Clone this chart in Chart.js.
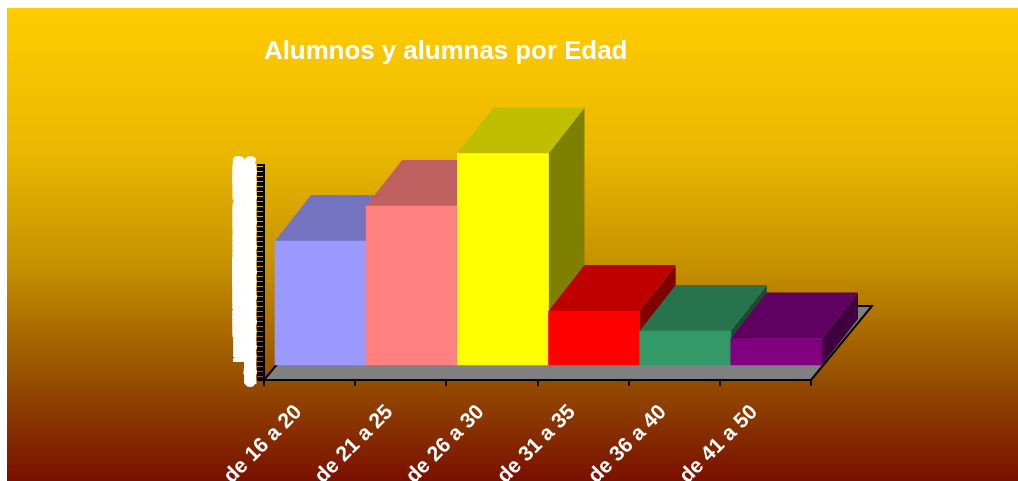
<!DOCTYPE html>
<html>
<head>
<meta charset="utf-8">
<title>Alumnos y alumnas por Edad</title>
<script src="https://cdn.jsdelivr.net/npm/chart.js@4"></script>
<style>
  html, body { margin: 0; padding: 0; background: #fff; overflow: hidden; }
  #grafica { position: absolute; left: 7px; top: 8px; }
</style>
</head>
<body>
<canvas id="grafica" width="1011" height="473"></canvas>
<script>
const edades = ['de 16 a 20', 'de 21 a 25', 'de 26 a 30', 'de 31 a 35', 'de 36 a 40', 'de 41 a 50'];
const alumnos = [50, 64, 85, 22, 14, 11];
const colores = ['#9999FF', '#FF8080', '#FFFF00', '#FF0000', '#339966', '#800080'];
const maxEje = 86;

// how far the bars sit back from the axis, and how deep they are
const desplazaX = 11, desplazaY = -14;
const fondoX = 36, fondoY = -46;
const sueloX = 61, sueloY = -74;

function oscurece(hex, f) {
  const n = parseInt(hex.slice(1), 16);
  return 'rgb(' + Math.round((n >> 16) * f) + ',' + Math.round(((n >> 8) & 255) * f) + ',' + Math.round((n & 255) * f) + ')';
}

function cara(ctx, pts, color) {
  ctx.fillStyle = color;
  ctx.beginPath();
  pts.forEach((p, i) => i ? ctx.lineTo(p[0], p[1]) : ctx.moveTo(p[0], p[1]));
  ctx.closePath();
  ctx.fill();
}

const fondo3d = {
  id: 'fondo3d',
  beforeDraw(chart) {
    const ctx = chart.ctx, a = chart.chartArea;
    const g = ctx.createLinearGradient(0, 0, 0, chart.height);
    g.addColorStop(0, '#FFCC00');
    g.addColorStop(0.30, '#EBB800');
    g.addColorStop(0.55, '#C49000');
    g.addColorStop(0.82, '#904400');
    g.addColorStop(1, '#7A1000');
    ctx.fillStyle = g;
    ctx.fillRect(0, 0, chart.width, chart.height);

    // floor of the 3d box
    const suelo = [[a.left, a.bottom], [a.right, a.bottom], [a.right + sueloX, a.bottom + sueloY], [a.left + sueloX, a.bottom + sueloY]];
    cara(ctx, suelo, '#808080');
    ctx.strokeStyle = '#000';
    ctx.lineWidth = 2;
    ctx.beginPath();
    ctx.moveTo(suelo[0][0], suelo[0][1]);
    ctx.lineTo(suelo[3][0], suelo[3][1]);
    ctx.lineTo(suelo[2][0], suelo[2][1]);
    ctx.lineTo(suelo[1][0], suelo[1][1]);
    ctx.stroke();
  },
  beforeDatasetsDraw(chart) {
    const ctx = chart.ctx;
    ctx.save();
    ctx.translate(desplazaX, desplazaY);
    // top and side first, left to right; the library paints the fronts over them
    chart.getDatasetMeta(0).data.forEach((bar, i) => {
      const izq = bar.x - bar.width / 2, der = bar.x + bar.width / 2;
      cara(ctx, [[der, bar.y], [der + fondoX, bar.y + fondoY], [der + fondoX, bar.base + fondoY], [der, bar.base]], oscurece(colores[i], 0.5));
      cara(ctx, [[izq, bar.y], [der, bar.y], [der + fondoX, bar.y + fondoY], [izq + fondoX, bar.y + fondoY]], oscurece(colores[i], 0.75));
    });
  },
  afterDatasetsDraw(chart) {
    chart.ctx.restore();
  }
};

const fuente = { family: '"Liberation Sans", Arial, sans-serif', size: 21, weight: 'bold' };

new Chart(document.getElementById('grafica').getContext('2d'), {
  type: 'bar',
  plugins: [fondo3d],
  data: {
    labels: edades,
    datasets: [{
      label: 'Alumnos',
      data: alumnos,
      backgroundColor: colores,
      borderWidth: 0,
      barPercentage: 1,
      categoryPercentage: 1,
      clip: false
    }]
  },
  options: {
    responsive: false,
    animation: false,
    layout: { padding: { left: 0, right: 207, top: 0, bottom: 0 } },
    plugins: {
      legend: { display: false },
      tooltip: { enabled: false },
      title: {
        display: true,
        text: 'Alumnos y alumnas por Edad',
        color: '#fff',
        align: 'start',
        fullSize: false,
        font: { family: fuente.family, size: 25.85, weight: 'bold' },
        padding: { top: 28, bottom: 98 }
      }
    },
    scales: {
      x: {
        afterFit(s) { s.height = 101; s.paddingLeft = 0; s.paddingRight = 0; },
        border: { color: '#000', width: 2 },
        grid: { drawOnChartArea: false, color: '#000', lineWidth: 2, tickLength: 6 },
        ticks: { color: '#fff', font: fuente, minRotation: 45, maxRotation: 45, autoSkip: false, padding: 14, labelOffset: -11 }
      },
      y: {
        min: 0,
        max: maxEje,
        afterFit(s) { s.width = 257; s.paddingTop = 0; s.paddingBottom = 0; },
        border: { color: '#000', width: 2 },
        grid: { drawOnChartArea: false, color: '#000', lineWidth: 2, tickLength: 7 },
        ticks: { color: '#fff', font: fuente, stepSize: 1, autoSkip: false, padding: 1, textStrokeColor: '#fff', textStrokeWidth: 2 }
      }
    }
  }
});
</script>
</body>
</html>
